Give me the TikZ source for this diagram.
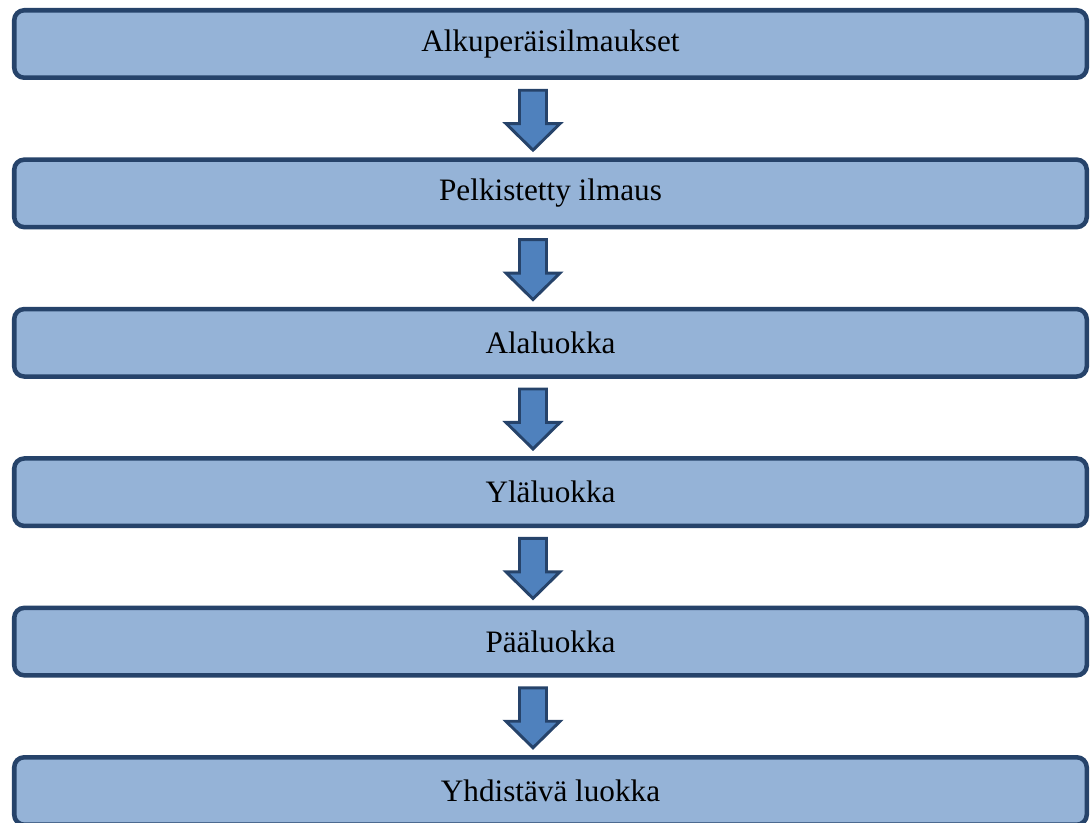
\documentclass[tikz,border=0pt]{standalone}
\usepackage{fontspec}
\setmainfont{Liberation Serif}
\usetikzlibrary{calc}
\definecolor{boxfill}{HTML}{95B3D7}
\definecolor{boxline}{HTML}{26436A}
\definecolor{arrowfill}{HTML}{4F81BD}
\tikzset{
  stagebox/.style={draw=boxline, fill=boxfill, line width=3.4pt, rounded corners=7.5pt,
    minimum width=804.4pt, minimum height=50.6pt, outer sep=0pt, inner sep=0pt,
    font=\fontsize{23.4}{28}\selectfont, text=black},
  blockarrow/.style={draw=boxline, fill=arrowfill, line width=2.2pt, line join=miter}
}
\begin{document}
\begin{tikzpicture}[x=0.75pt,y=-0.75pt]
\useasboundingbox (0,0) rectangle (1090,823);
\node[stagebox] (b1) at (550.5,44) {Alkuperäisilmaukset};
\node[stagebox] (b2) at (550.5,193.4) {Pelkistetty ilmaus};
\node[stagebox] (b3) at (550.5,342.8) {Alaluokka};
\node[stagebox] (b4) at (550.5,492.2) {Yläluokka};
\node[stagebox] (b5) at (550.5,641.6) {Pääluokka};
\node[stagebox] (b6) at (550.5,791) {Yhdistävä luokka};
\foreach \a/\b in {b1/b2,b2/b3,b3/b4,b4/b5,b5/b6}{
  \coordinate (top) at ($(\a.south)+(-17.5,12.5)$);
  \coordinate (tip) at ($(\b.north)+(-17.5,-9.5)$);
  \draw[blockarrow]
    ($(top)+(-13.5,0)$) -- ($(top)+(13.5,0)$) --
    ($(tip)+(13.5,-26.5)$) -- ($(tip)+(27,-26.5)$) -- (tip) --
    ($(tip)+(-27,-26.5)$) -- ($(tip)+(-13.5,-26.5)$) -- cycle;
}
\end{tikzpicture}
\end{document}
